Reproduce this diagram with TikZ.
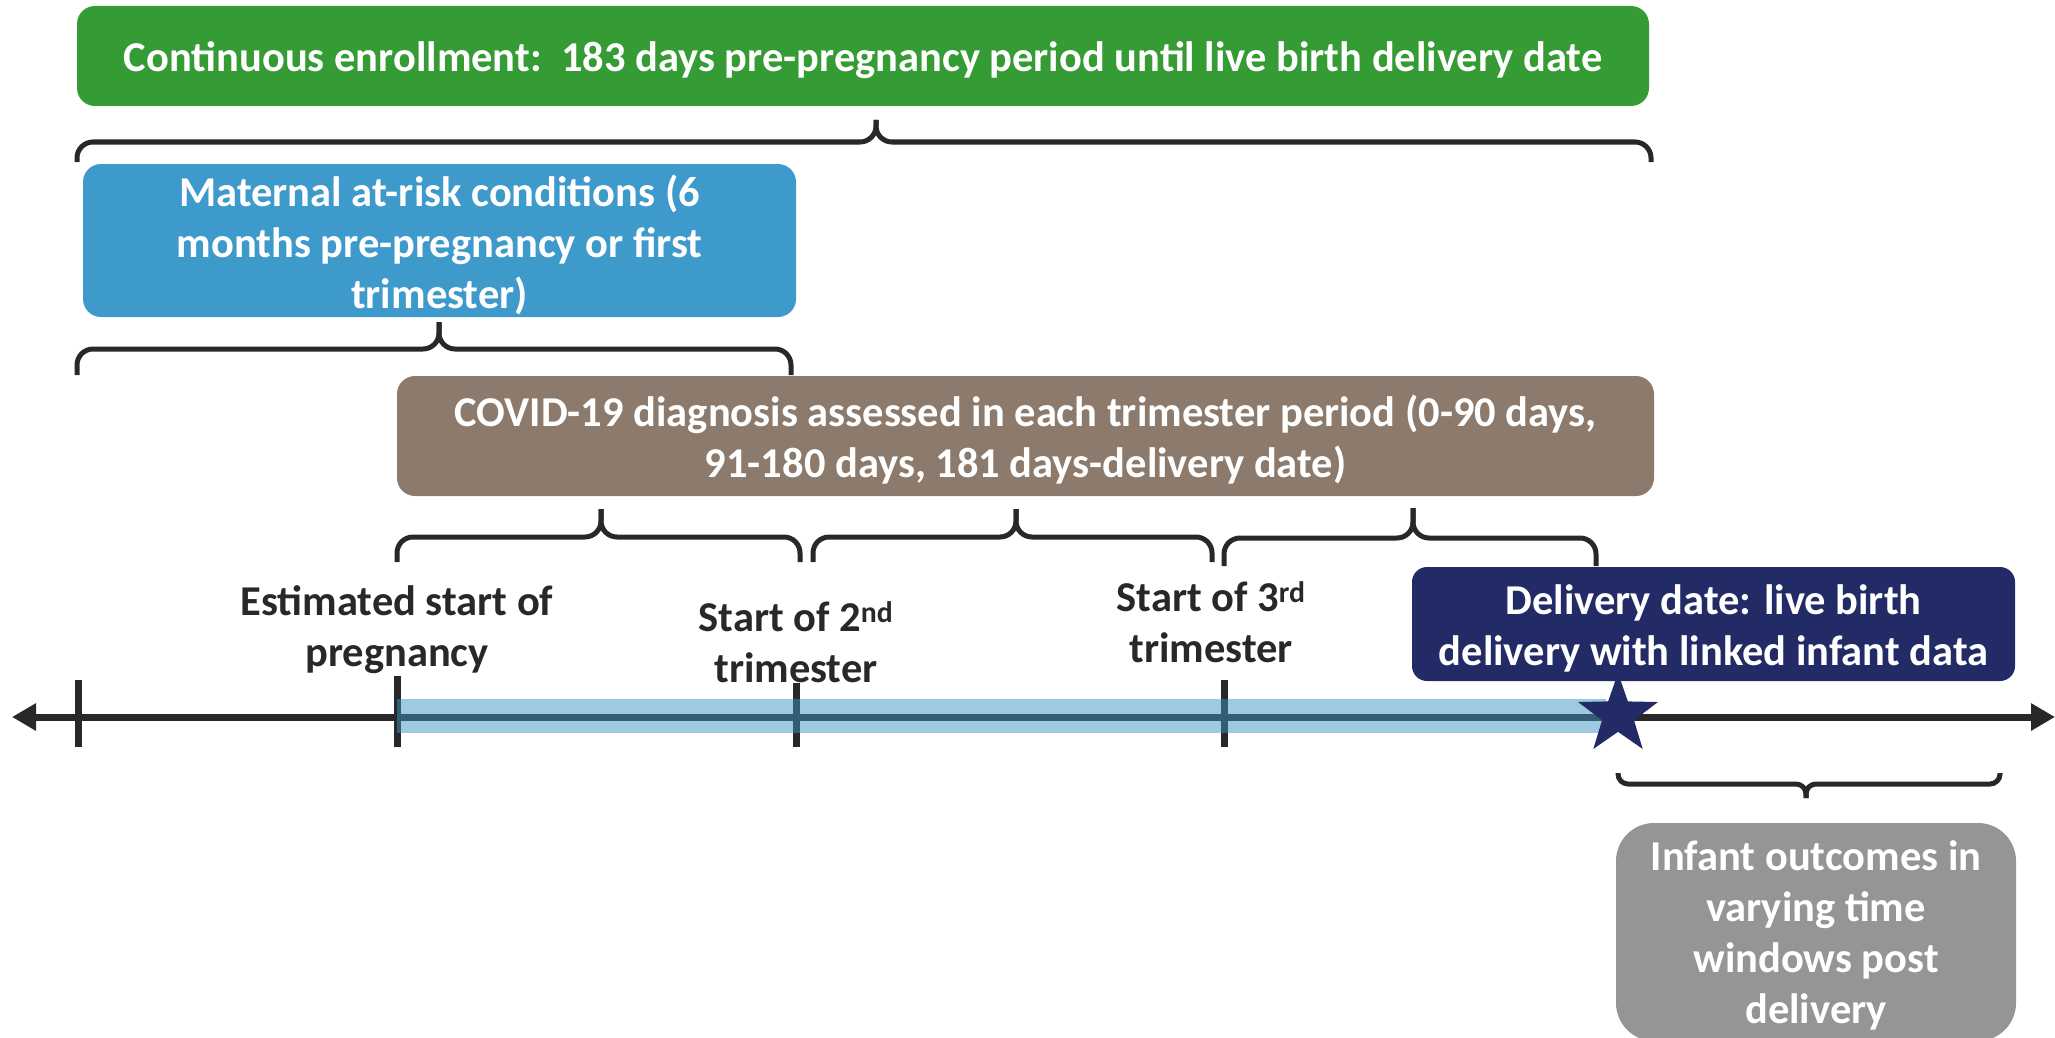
\documentclass[tikz,border=0pt]{standalone}
\usepackage{fontspec}
\setmainfont{Carlito}
\usetikzlibrary{shapes.geometric,arrows.meta}
\definecolor{cgreen}{RGB}{53,155,53}
\definecolor{cblue}{RGB}{63,154,204}
\definecolor{cbrown}{RGB}{140,123,108}
\definecolor{cnavy}{RGB}{35,43,103}
\definecolor{cgrey}{RGB}{149,149,149}
\definecolor{cband}{RGB}{61,149,195}
\definecolor{cink}{RGB}{40,40,40}
\newcommand{\mybrace}[6]{%
 \draw[bracestyle] (#1,#4) -- (#1,#5) -- (#3,#5) -- (#3,#6);
 \draw[bracestyle] (#3,#6) -- (#3,#5) -- (#2,#5) -- (#2,#4);}
\tikzset{
 box/.style={rectangle, rounded corners=18pt, inner sep=0pt},
 boxtext/.style={inner sep=0pt, text=white, align=center, yshift=-4pt,
   font=\bfseries\fontsize{42.5}{51}\selectfont},
 lbl/.style={inner sep=0pt, text=cink, align=center, font=\bfseries\fontsize{42.5}{51}\selectfont},
 bracestyle/.style={draw=cink, line width=5pt, rounded corners=16pt},
 axisline/.style={draw=cink, line width=7pt},
 tickline/.style={draw=cink, line width=7pt},
}
\begin{document}
\begin{tikzpicture}[x=1pt,y=-1pt]
\clip (0,0) rectangle (2055,1038);
\useasboundingbox (0,0) rectangle (2055,1038);
% boxes
\node[box, fill=cgreen, minimum width=1572pt, minimum height=100pt] (enroll) at (863,56) {};
\node[boxtext] (enrollT) at (enroll.center)
 {Continuous enrollment:\ \ 183 days pre-pregnancy period until live birth delivery date};
\node[box, fill=cblue, minimum width=713pt, minimum height=153pt] (risk) at (439.5,240.5) {};
\node[boxtext] (riskT) at (risk.center)
 {Maternal at-risk conditions (6\\months pre-pregnancy or first\\trimester)};
\node[box, fill=cbrown, minimum width=1257pt, minimum height=120pt] (covid) at (1025.5,436) {};
\node[boxtext] (covidT) at (covid.center)
 {COVID-19 diagnosis assessed in each trimester period (0-90 days,\\91-180 days, 181 days-delivery date)};
\node[box, fill=cnavy, rounded corners=15pt, minimum width=603pt, minimum height=114pt] (deliv) at (1713.5,624) {};
\node[boxtext] (delivT) at (deliv.center)
 {Delivery date: live birth\\delivery with linked infant data};
\node[box, fill=cgrey, rounded corners=38pt, minimum width=400pt, minimum height=218pt] (infant) at (1816,932) {};
\node[boxtext, yshift=1pt] (infantT) at (infant.center)
 {Infant outcomes in\\varying time\\windows post\\delivery};
% braces
\mybrace{77}{1651}{876}{162}{142}{120}
\mybrace{77}{791}{439}{375}{349}{322}
\mybrace{397}{800}{601}{562}{537}{509}
\mybrace{813}{1212}{1016}{562}{537}{509}
\mybrace{1224}{1596}{1413}{566}{538}{508}
\begin{scope}[bracestyle/.append style={rounded corners=10pt}]
\mybrace{1618}{2000}{1806}{773}{784}{798}
\end{scope}
% timeline
\coordinate (axL) at (12,717);
\coordinate (axR) at (2055,717);
\draw[axisline, {Triangle[length=24pt,width=26pt]}-{Triangle[length=24pt,width=26pt]}] (axL) -- (axR);
\foreach \n/\x/\ya in {a/78/680, b/397/676, c/796/683, d/1224/680}{
 \coordinate (t\n1) at (\x,\ya);
 \coordinate (t\n2) at (\x,747);
 \draw[tickline] (t\n1) -- (t\n2);
}
\coordinate (bandA) at (397,699);
\coordinate (bandB) at (1606,733);
\fill[cband, opacity=0.5] (bandA) rectangle (bandB);
\node[star, star points=5, star point ratio=2.5, fill=cnavy, minimum size=84pt, inner sep=0pt] (star) at (1618,715) {};
% labels
\node[lbl] (l1) at (397,630) {Estimated start of\\pregnancy};
\node[lbl] (l2) at (796,642) {Start of 2\textsuperscript{nd}\\trimester};
\node[lbl] (l3) at (1211,622) {Start of 3\textsuperscript{rd}\\trimester};
\end{tikzpicture}
\end{document}
